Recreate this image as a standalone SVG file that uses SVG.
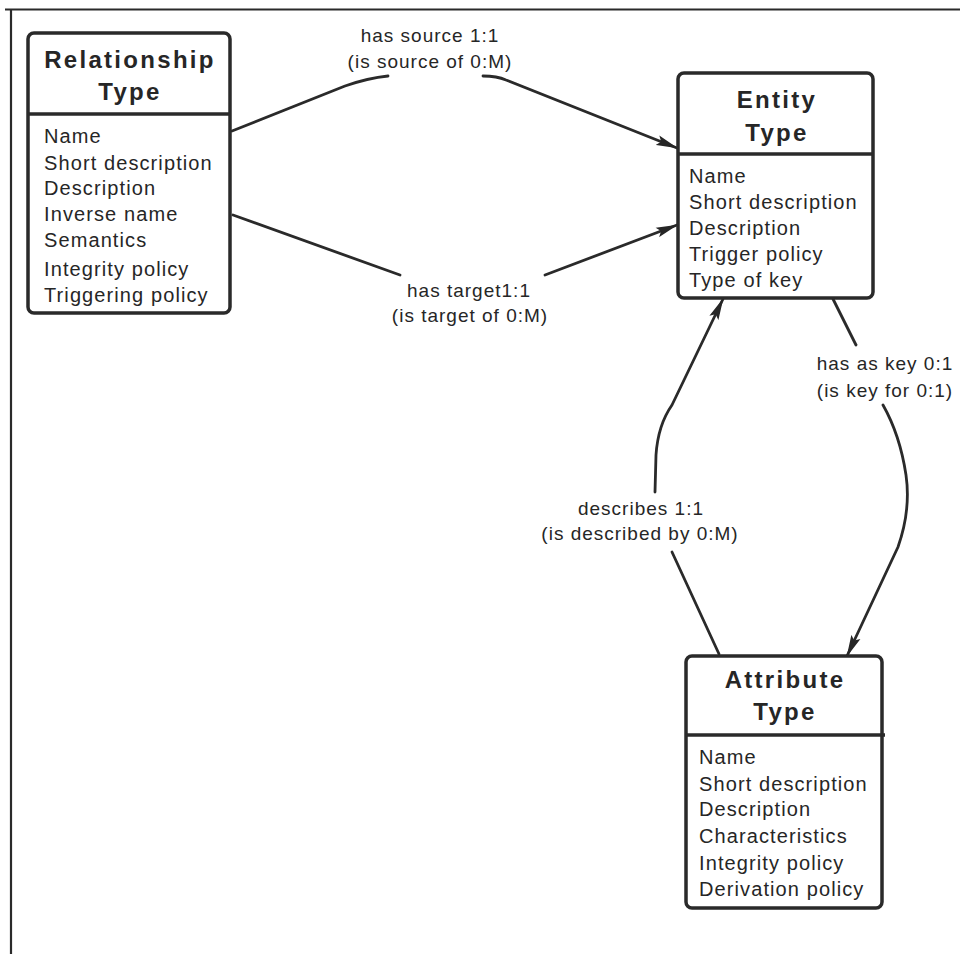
<svg xmlns="http://www.w3.org/2000/svg" width="960" height="954" viewBox="0 0 960 954">
  <style>
    .frame { fill: none; stroke: #2a2a2a; stroke-width: 2.2; }
    .box { fill: #ffffff; stroke: #2a2a2a; stroke-width: 3.5; }
    .divider { stroke: #2a2a2a; stroke-width: 3.5; }
    .title { font-family: "Liberation Sans", Arial, sans-serif; font-weight: bold; font-size: 24px; letter-spacing: 2.3px; fill: #262626; text-anchor: middle; }
    .attr { font-family: "Liberation Sans", Arial, sans-serif; font-size: 20px; letter-spacing: 1.1px; fill: #262626; }
    .label { font-family: "Liberation Sans", Arial, sans-serif; font-size: 19px; letter-spacing: 1px; fill: #262626; text-anchor: middle; }
    .conn { fill: none; stroke: #2a2a2a; stroke-width: 2.8; stroke-linecap: round; stroke-linejoin: round; }
  </style>
  <defs>
    <marker id="arrow" viewBox="0 0 22 11" refX="21" refY="5.5" markerWidth="22" markerHeight="11" markerUnits="userSpaceOnUse" orient="auto">
      <path d="M0,0.5 L22,5.5 L0,10.5 L4,5.5 Z" fill="#262626"/>
    </marker>
  </defs>

  <rect width="960" height="954" fill="#ffffff"/>

  <!-- page frame: top rule and left rule -->
  <path class="frame" d="M5,9.5 L960,9.5 M11,9.5 L11,954"/>

  <!-- connectors -->
  <g id="connectors">
    <!-- has source -->
    <path class="conn" d="M232,131 L345,86 Q368,78 388,76"/>
    <path class="conn" marker-end="url(#arrow)" d="M483,76 Q497,76 506,80 L677,148"/>
    <!-- has target -->
    <path class="conn" d="M233,215 L400,275"/>
    <path class="conn" marker-end="url(#arrow)" d="M545,275 L677,225"/>
    <!-- describes -->
    <path class="conn" marker-end="url(#arrow)" d="M655,492 L656,455 Q658,425 672,405 L723,299"/>
    <path class="conn" d="M672,552 L719,654"/>
    <!-- has as key -->
    <path class="conn" d="M833,299 L856,345"/>
    <path class="conn" marker-end="url(#arrow)" d="M883,405 Q900,435 906,475 Q911,510 898,547 L847,656"/>
  </g>

  <g id="relationship-type">
    <rect class="box" x="28" y="33" width="202" height="280" rx="6"/>
    <line class="divider" x1="28" y1="114" x2="230" y2="114"/>
    <text class="title" x="130" y="68">Relationship</text>
    <text class="title" x="130" y="100">Type</text>
    <text class="attr" x="44" y="143">Name</text>
    <text class="attr" x="44" y="170">Short description</text>
    <text class="attr" x="44" y="195">Description</text>
    <text class="attr" x="44" y="221">Inverse name</text>
    <text class="attr" x="44" y="247">Semantics</text>
    <text class="attr" x="44" y="276">Integrity policy</text>
    <text class="attr" x="44" y="302">Triggering policy</text>
  </g>

  <g id="entity-type">
    <rect class="box" x="678" y="73" width="195" height="225" rx="6"/>
    <line class="divider" x1="678" y1="154" x2="873" y2="154"/>
    <text class="title" x="777" y="108">Entity</text>
    <text class="title" x="777" y="141">Type</text>
    <text class="attr" x="689" y="183">Name</text>
    <text class="attr" x="689" y="209">Short description</text>
    <text class="attr" x="689" y="235">Description</text>
    <text class="attr" x="689" y="261">Trigger policy</text>
    <text class="attr" x="689" y="287">Type of key</text>
  </g>

  <g id="attribute-type">
    <rect class="box" x="686" y="656" width="196" height="252" rx="6"/>
    <line class="divider" x1="686" y1="735" x2="885" y2="735"/>
    <text class="title" x="785" y="688">Attribute</text>
    <text class="title" x="785" y="720">Type</text>
    <text class="attr" x="699" y="764">Name</text>
    <text class="attr" x="699" y="791">Short description</text>
    <text class="attr" x="699" y="816">Description</text>
    <text class="attr" x="699" y="843">Characteristics</text>
    <text class="attr" x="699" y="870">Integrity policy</text>
    <text class="attr" x="699" y="896">Derivation policy</text>
  </g>

  <g id="labels">
    <text class="label" x="430" y="42">has source 1:1</text>
    <text class="label" x="430" y="68">(is source of 0:M)</text>
    <text class="label" x="469" y="297">has target1:1</text>
    <text class="label" x="470" y="322">(is target of 0:M)</text>
    <text class="label" x="641" y="515">describes 1:1</text>
    <text class="label" x="640" y="540">(is described by 0:M)</text>
    <text class="label" x="885" y="370">has as key 0:1</text>
    <text class="label" x="885" y="397">(is key for 0:1)</text>
  </g>
</svg>
